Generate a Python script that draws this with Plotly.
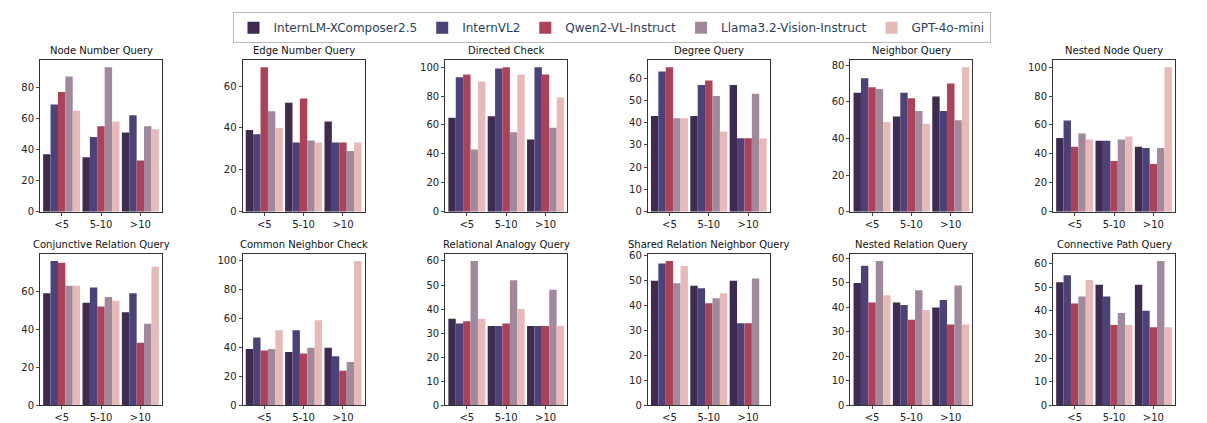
import plotly.graph_objects as go

categories = ["<5", "5-10", ">10"]
models = ["InternLM-XComposer2.5", "InternVL2", "Qwen2-VL-Instruct", "Llama3.2-Vision-Instruct", "GPT-4o-mini"]
colors = ["#3f2b4f", "#4a4278", "#ac4158", "#a1899d", "#e8bab7"]

titles = ["Node Number Query", "Edge Number Query", "Directed Check", "Degree Query", "Neighbor Query", "Nested Node Query",
          "Conjunctive Relation Query", "Common Neighbor Check", "Relational Analogy Query",
          "Shared Relation Neighbor Query", "Nested Relation Query", "Connective Path Query"]

# values[panel][model] = [<5, 5-10, >10]
node_number = [[37, 35, 51], [69, 48, 62], [77, 55, 33], [87, 93, 55], [65, 58, 53]]
edge_number = [[39, 52, 43], [37, 33, 33], [69, 54, 33], [48, 34, 29], [40, 33, 33]]
directed = [[65, 66, 50], [93, 99, 100], [95, 100, 95], [43, 55, 58], [90, 95, 79]]
degree = [[43, 43, 57], [63, 57, 33], [65, 59, 33], [42, 52, 53], [42, 36, 33]]
neighbor = [[65, 52, 63], [73, 65, 55], [68, 62, 70], [67, 55, 50], [49, 48, 79]]
nested_node = [[51, 49, 45], [63, 49, 44], [45, 35, 33], [54, 50, 44], [50, 52, 100]]
conjunctive = [[59, 54, 49], [76, 62, 59], [75, 52, 33], [63, 57, 43], [63, 55, 73]]
common_neighbor = [[39, 37, 40], [47, 52, 34], [38, 36, 24], [39, 40, 30], [52, 59, 100]]
relational_analogy = [[36, 33, 33], [34, 33, 33], [35, 34, 33], [60, 52, 48], [36, 40, 33]]
shared_relation = [[50, 48, 50], [57, 47, 33], [58, 41, 33], [49, 43, 51], [56, 45, 0]]
nested_relation = [[50, 42, 40], [57, 41, 43], [42, 35, 33], [59, 47, 49], [45, 39, 33]]
connective_path = [[52, 51, 51], [55, 46, 40], [43, 34, 33], [46, 39, 61], [53, 34, 33]]

panels = [node_number, edge_number, directed, degree, neighbor, nested_node,
          conjunctive, common_neighbor, relational_analogy, shared_relation, nested_relation, connective_path]
yticks = [[0, 20, 40, 60, 80], [0, 20, 40, 60], [0, 20, 40, 60, 80, 100], [0, 10, 20, 30, 40, 50, 60],
          [0, 20, 40, 60, 80], [0, 20, 40, 60, 80, 100],
          [0, 20, 40, 60], [0, 20, 40, 60, 80, 100], [0, 10, 20, 30, 40, 50, 60],
          [0, 10, 20, 30, 40, 50, 60], [0, 10, 20, 30, 40, 50, 60], [0, 10, 20, 30, 40, 50, 60]]

W, H = 1207, 423
xl = [32 + 202.6 * c for c in range(6)]
pw = 122
rows = [(50, 205), (248, 403)]

fig = go.Figure()
for i, data in enumerate(panels):
    r, c = divmod(i, 6)
    ax = "" if i == 0 else str(i + 1)
    mx = max(max(v) for v in data)
    for m, vals in enumerate(data):
        fig.add_trace(go.Bar(x=categories, y=vals, name=models[m], marker_color=colors[m],
                             marker_line_width=0, showlegend=(i == 0),
                             xaxis="x" + ax, yaxis="y" + ax))
    x0, x1 = xl[c] / W, (xl[c] + pw) / W
    yt, yb = rows[r]
    d0, d1 = 1 - yb / H, 1 - yt / H
    common = dict(showline=True, linecolor="#333", linewidth=1, mirror=True, showgrid=False,
                  ticks="outside", ticklen=3, tickfont=dict(size=10, color="#222"), zeroline=False)
    fig.layout["xaxis" + ax] = dict(domain=[x0, x1], anchor="y" + ax, range=[-0.55, 2.55], **common)
    fig.layout["yaxis" + ax] = dict(domain=[d0, d1], anchor="x" + ax, range=[0, mx * 1.05],
                                     tickvals=yticks[i], **common)
    fig.add_annotation(text=titles[i], x=(x0 + x1) / 2, y=d1, xref="paper", yref="paper",
                       xanchor="center", yanchor="bottom", yshift=2, showarrow=False,
                       font=dict(size=10, color="#111"))

fig.update_layout(width=W, height=H, margin=dict(l=0, r=0, t=0, b=0), barmode="group",
                  bargap=0.06, bargroupgap=0, plot_bgcolor="white", paper_bgcolor="white",
                  font=dict(family="DejaVu Sans"),
                  legend=dict(orientation="h", x=0.5, xanchor="center", y=0.997, yanchor="top",
                              bordercolor="#bbb", borderwidth=1, font=dict(size=12),
                              itemwidth=30, tracegroupgap=0))
fig.write_html("out.html")
